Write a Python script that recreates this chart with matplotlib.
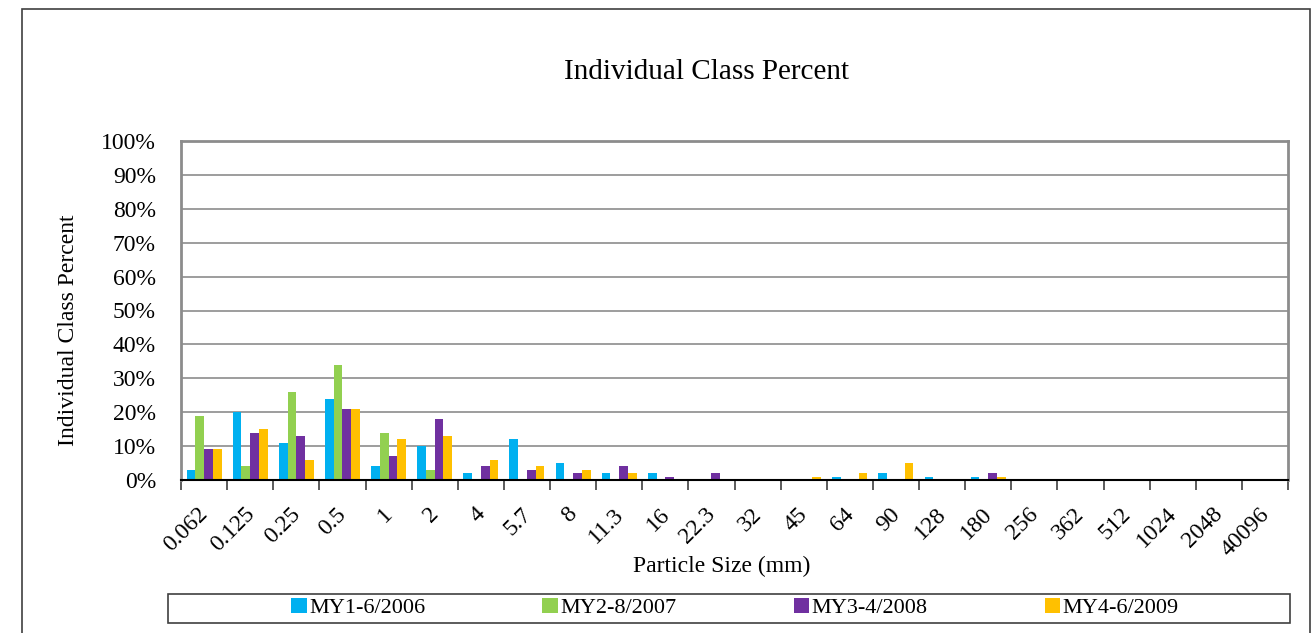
import numpy as np
import matplotlib
matplotlib.use("Agg")
from matplotlib import pyplot as plt
from matplotlib.patches import Rectangle

plt.rcParams['font.family'] = ['Liberation Serif', 'DejaVu Serif']

sizes = ["0.062", "0.125", "0.25", "0.5", "1", "2", "4", "5.7", "8", "11.3",
         "16", "22.3", "32", "45", "64", "90", "128", "180", "256", "362",
         "512", "1024", "2048", "40096"]

my1 = [3, 20, 11, 24, 4, 10, 2, 12, 5, 2, 2, 0, 0, 0, 1, 2, 1, 1, 0, 0, 0, 0, 0, 0]
my2 = [19, 4, 26, 34, 14, 3, 0, 0, 0, 0, 0, 0, 0, 0, 0, 0, 0, 0, 0, 0, 0, 0, 0, 0]
my3 = [9, 14, 13, 21, 7, 18, 4, 3, 2, 4, 1, 2, 0, 0, 0, 0, 0, 2, 0, 0, 0, 0, 0, 0]
my4 = [9, 15, 6, 21, 12, 13, 6, 4, 3, 2, 0, 0, 0, 1, 2, 5, 0, 1, 0, 0, 0, 0, 0, 0]

series = [my1, my2, my3, my4]
names = ["MY1-6/2006", "MY2-8/2007", "MY3-4/2008", "MY4-6/2009"]
colors = ["#00B0F0", "#92D050", "#7030A0", "#FFC000"]

fig = plt.figure(figsize=(13.13, 6.33), dpi=100)
ax = fig.add_axes([181/1313, 1-480/633, (1288-181)/1313, (480-141)/633])

x = np.arange(len(sizes))
w = 0.19
for i, vals in enumerate(series):
    ax.bar(x + (i - 1.5)*w, vals, w, color=colors[i], label=names[i], zorder=3)

ax.set_xlim(-0.5, len(sizes) - 0.5)
ax.set_ylim(0, 100)
ax.set_yticks(np.arange(0, 101, 10))
ax.set_yticklabels([f"{v}%" for v in range(0, 101, 10)], fontsize=17)
ax.yaxis.grid(True, color="#8c8c8c", linewidth=1.2, zorder=0)
ax.tick_params(axis='y', length=0, pad=18)

ax.set_xticks(np.arange(len(sizes) + 1) - 0.5)
ax.set_xticklabels([])
ax.tick_params(axis='x', length=7, width=1.2, color="#404040")
for i, s in enumerate(sizes):
    ax.text(i - 0.14, -7, s, rotation=45, ha='right', va='top',
            rotation_mode='anchor', fontsize=17)

for side in ['left', 'right', 'top']:
    ax.spines[side].set_color("#8c8c8c")
    ax.spines[side].set_linewidth(2)
ax.spines['bottom'].set_color("black")
ax.spines['bottom'].set_linewidth(1.5)
ax.spines['bottom'].set_zorder(5)

fig.text(706/1313, 1-72/633, "Individual Class Percent", ha='center', va='center', fontsize=21)
fig.text(68/1313, 1-330/633, "Individual Class Percent", ha='center', va='center',
         rotation=90, fontsize=17)
fig.text(722/1313, 1-566/633, "Particle Size (mm)", ha='center', va='center', fontsize=17)

fig.patches.append(Rectangle((22/1313, -0.05), (1310-22)/1313, 1.05 - 9/633,
                             transform=fig.transFigure, fill=False,
                             edgecolor="#404040", linewidth=1.2))
fig.patches.append(Rectangle((168/1313, 1-623/633), (1290-168)/1313, 29/633,
                             transform=fig.transFigure, fill=False,
                             edgecolor="#404040", linewidth=1.2))

fig.legend(loc='center', bbox_to_anchor=(735/1313, 1-608/633), ncol=4,
           frameon=False, fontsize=16, handlelength=0.7, handleheight=0.7,
           handletextpad=0.1, columnspacing=5.28, borderpad=0)

fig.savefig("out.png", dpi=100)
